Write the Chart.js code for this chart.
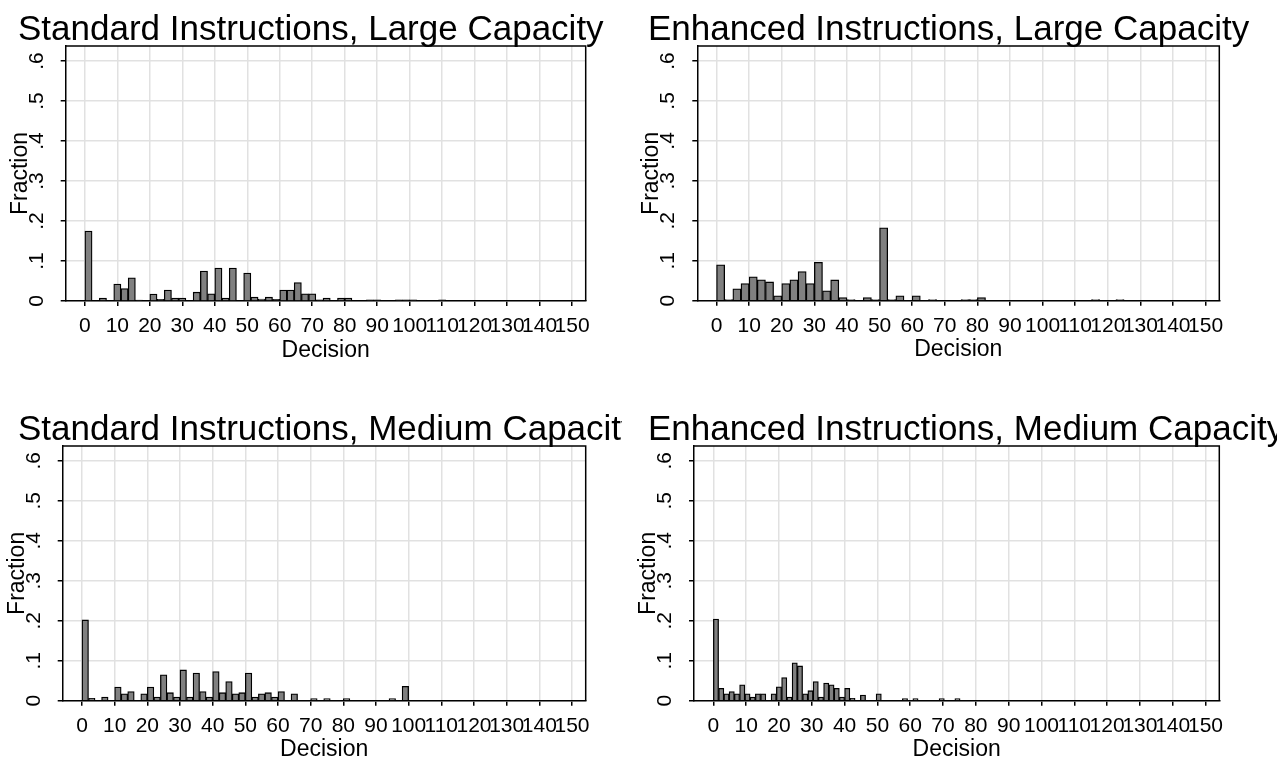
<!DOCTYPE html>
<html>
<head>
<meta charset="utf-8">
<script src="https://cdn.jsdelivr.net/npm/chart.js@4.4.1/dist/chart.umd.min.js"></script>
<style>
  html, body { margin: 0; padding: 0; background: #fff; }
  body { width: 1277px; height: 758px; position: relative; overflow: hidden; }
  canvas { position: absolute; }
</style>
</head>
<body>
<canvas id="stdLarge" style="left:0;top:0" width="622" height="379"></canvas>
<canvas id="enhLarge" style="left:614px;top:0" width="663" height="379"></canvas>
<canvas id="stdMedium" style="left:0;top:379px" width="622" height="386"></canvas>
<canvas id="enhMedium" style="left:614px;top:379px" width="663" height="386"></canvas>
<script>
// axis ticks
const xTicks = [0, 10, 20, 30, 40, 50, 60, 70, 80, 90, 100, 110, 120, 130, 140, 150];
const yTicks = [0, 0.1, 0.2, 0.3, 0.4, 0.5, 0.6];
const yTickLabels = ["0", ".1", ".2", ".3", ".4", ".5", ".6"];

const titles = [
    "Standard Instructions, Large Capacity",
    "Enhanced Instructions, Large Capacity",
    "Standard Instructions, Medium Capacity",
    "Enhanced Instructions, Medium Capacity"
];

// histogram bin widths (Decision units), bins start at 0
const stdLargeBin = 2.2222;
const enhLargeBin = 2.5;
const stdMediumBin = 2;
const enhMediumBin = 1.6;

// fraction per bin
const stdLargeFrac = [
    0.175, 0, 0.007, 0, 0.0425, 0.031, 0.058, 0.0025, 0, 0.0175,
    0.004, 0.0275, 0.007, 0.007, 0, 0.022, 0.075, 0.018, 0.0825, 0.007,
    0.0825, 0, 0.07, 0.01, 0.005, 0.01, 0.004, 0.0275, 0.0275, 0.046,
    0.018, 0.018, 0.003, 0.007, 0, 0.007, 0.007, 0, 0, 0.003,
    0.003, 0, 0, 0.003, 0.003, 0.003, 0, 0, 0, 0.003
];
const enhLargeFrac = [
    0.09, 0.003, 0.03, 0.043, 0.06, 0.0525, 0.047, 0.0125, 0.043, 0.0525,
    0.073, 0.043, 0.096, 0.025, 0.052, 0.008, 0.003, 0, 0.008, 0.003,
    0.1825, 0.003, 0.0125, 0, 0.0125, 0, 0.003, 0, 0, 0,
    0.003, 0.003, 0.008, 0, 0, 0, 0, 0, 0, 0,
    0, 0, 0, 0, 0, 0, 0.003, 0, 0, 0.003
];
const stdMediumFrac = [
    0.202, 0.006, 0, 0.009, 0, 0.034, 0.017, 0.023, 0, 0.017,
    0.034, 0.009, 0.065, 0.02, 0.009, 0.077, 0.009, 0.069, 0.023, 0.009,
    0.073, 0.02, 0.048, 0.017, 0.02, 0.069, 0.009, 0.017, 0.02, 0.009,
    0.023, 0, 0.017, 0, 0, 0.005, 0, 0.005, 0, 0,
    0.005, 0, 0, 0, 0, 0, 0, 0.005, 0, 0.036
];
const enhMediumFrac = [
    0.204, 0.031, 0.017, 0.023, 0.017, 0.04, 0.017, 0.009, 0.017, 0.017,
    0, 0.017, 0.035, 0.058, 0.009, 0.095, 0.087, 0.017, 0.025, 0.048,
    0.009, 0.044, 0.04, 0.031, 0.009, 0.031, 0.006, 0, 0.014, 0,
    0, 0.017, 0, 0, 0, 0, 0.005, 0, 0.005, 0,
    0, 0, 0, 0.005, 0, 0, 0.005
];

const fontFamily = "'Liberation Sans', Arial, Helvetica, sans-serif";

// draws the panel heading left-aligned; the canvas edge cuts it like the original
const panelTitle = {
    id: "panelTitle",
    afterDraw(chart, args, opts) {
        const ctx = chart.ctx;
        ctx.save();
        ctx.font = opts.size + "px " + fontFamily;
        ctx.fillStyle = "#000";
        ctx.textBaseline = "alphabetic";
        ctx.textAlign = "left";
        ctx.fillText(opts.text, opts.x, opts.y);
        ctx.restore();
    }
};

// top and right sides of the plot box
const plotFrame = {
    id: "plotFrame",
    afterDatasetsDraw(chart) {
        const a = chart.chartArea;
        const ctx = chart.ctx;
        ctx.save();
        ctx.strokeStyle = "#000";
        ctx.lineWidth = 1.5;
        ctx.beginPath();
        ctx.moveTo(a.left, a.top);
        ctx.lineTo(a.right, a.top);
        ctx.lineTo(a.right, a.bottom);
        ctx.stroke();
        ctx.restore();
    }
};

function makeHistogram(id, title, bin, fracs, layout) {
    new Chart(document.getElementById(id), {
        type: "bar",
        data: {
            datasets: [{
                data: fracs.map((f, i) => ({ x: (i + 0.5) * bin, y: f === 0 ? null : f })),
                backgroundColor: "#808080",
                borderColor: "#000",
                borderWidth: 1.3,
                borderSkipped: "start",
                barPercentage: 1,
                categoryPercentage: 1
            }]
        },
        options: {
            responsive: false,
            animation: false,
            layout: { padding: layout.padding },
            plugins: {
                legend: { display: false },
                tooltip: { enabled: false },
                panelTitle: { text: title, x: layout.titleX, y: layout.titleY, size: 35 }
            },
            scales: {
                x: {
                    type: "linear",
                    offset: false,
                    min: -5.9,
                    max: 154.2,
                    afterBuildTicks: s => { s.ticks = xTicks.map(v => ({ value: v })); },
                    afterFit: s => { s.height = 64; },
                    ticks: {
                        autoSkip: false, minRotation: 0, maxRotation: 0,
                        padding: 8, color: "#000",
                        font: { family: fontFamily, size: 21 }
                    },
                    grid: { offset: false, color: "#e1e1e1", lineWidth: 1.5, tickColor: "#000", tickLength: 5 },
                    border: { color: "#000", width: 1.5 },
                    title: {
                        display: true, text: "Decision", color: "#000",
                        font: { family: fontFamily, size: 23 },
                        padding: { top: 0, bottom: 1 }
                    }
                },
                y: {
                    min: 0,
                    max: layout.yMax,
                    afterBuildTicks: s => { s.ticks = yTicks.map(v => ({ value: v })); },
                    afterFit: s => { s.width = 59; },
                    ticks: {
                        autoSkip: false, minRotation: 90, maxRotation: 90,
                        crossAlign: "center", padding: 15, color: "#000",
                        font: { family: fontFamily, size: 21 },
                        callback: (v, i) => yTickLabels[i]
                    },
                    grid: { color: "#e1e1e1", lineWidth: 1.5, tickColor: "#000", tickLength: 5 },
                    border: { color: "#000", width: 1.5 },
                    title: {
                        display: true, text: "Fraction", color: "#000",
                        font: { family: fontFamily, size: 23 },
                        padding: { top: 0, bottom: 0 }
                    }
                }
            }
        },
        plugins: [panelTitle, plotFrame]
    });
}

makeHistogram("stdLarge", titles[0], stdLargeBin, stdLargeFrac, {
    padding: { left: 6.7, right: 36.3, top: 46, bottom: 14 },
    titleX: 18, titleY: 40, yMax: 0.6375
});
makeHistogram("enhLarge", titles[1], enhLargeBin, enhLargeFrac, {
    padding: { left: 24.3, right: 57.7, top: 46, bottom: 14.3 },
    titleX: 34, titleY: 40, yMax: 0.6375
});
makeHistogram("stdMedium", titles[2], stdMediumBin, stdMediumFrac, {
    padding: { left: 3.7, right: 36.3, top: 67, bottom: 0.3 },
    titleX: 18, titleY: 61, yMax: 0.637
});
makeHistogram("enhMedium", titles[3], enhMediumBin, enhMediumFrac, {
    padding: { left: 21, right: 57.7, top: 67, bottom: 0.3 },
    titleX: 34, titleY: 61, yMax: 0.637
});
</script>
</body>
</html>
